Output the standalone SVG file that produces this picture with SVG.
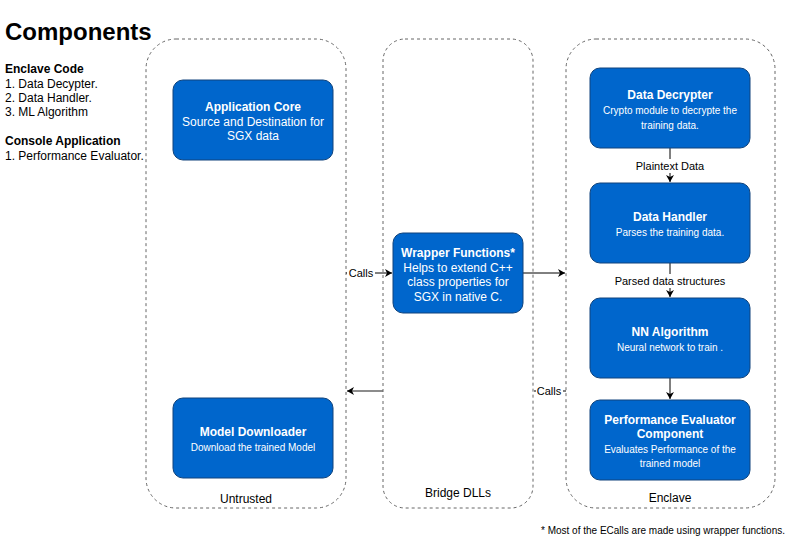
<svg xmlns="http://www.w3.org/2000/svg" width="809" height="539" viewBox="0 0 809 539">
<style>
text{font-family:"Liberation Sans",Arial,sans-serif;}
.cont{fill:none;stroke:#666;stroke-dasharray:3 3;stroke-width:1;}
.node{fill:#0066CC;stroke:#10437C;stroke-width:1;}
.t{fill:#fff;font-size:12px;font-weight:bold;text-anchor:middle;}
.b{fill:#fff;font-size:12px;text-anchor:middle;}
.s{fill:#fff;font-size:10px;text-anchor:middle;}
.lbl{fill:#000;font-size:12px;text-anchor:middle;}
.el{fill:#000;font-size:11px;text-anchor:middle;}
.edge{stroke:#000;stroke-width:1;fill:none;}
</style>
<defs>
<marker id="arr" markerWidth="8" markerHeight="8" refX="7" refY="4" orient="auto" markerUnits="userSpaceOnUse">
<path d="M0,0 L7,4 L0,8 L2,4 Z" fill="#000"/>
</marker>
</defs>
<rect width="809" height="539" fill="#fff"/>
<g id="legend">
<text x="5" y="40" font-size="24" font-weight="bold" fill="#000">Components</text>
<text x="5" y="73" font-size="12" font-weight="bold" fill="#000">Enclave Code</text>
<text x="5" y="88" font-size="12" fill="#000">1. Data Decypter.</text>
<text x="5" y="102" font-size="12" fill="#000">2. Data Handler.</text>
<text x="5" y="116" font-size="12" fill="#000">3. ML Algorithm</text>
<text x="5" y="145" font-size="12" font-weight="bold" fill="#000">Console Application</text>
<text x="5" y="160" font-size="12" fill="#000">1. Performance Evaluator.</text>
</g>
<g id="untrusted">
<rect class="cont" x="146" y="39" width="200" height="469" rx="30"/>
<text class="lbl" x="246" y="503">Untrusted</text>
</g>
<g id="bridge">
<rect class="cont" x="383" y="39" width="150" height="469" rx="22"/>
<text class="lbl" x="458" y="497">Bridge DLLs</text>
</g>
<g id="enclave">
<rect class="cont" x="566" y="39" width="209" height="469" rx="30"/>
<text class="lbl" x="670" y="502">Enclave</text>
</g>
<g id="connectors">
<line class="edge" x1="346" y1="273" x2="392" y2="273" marker-end="url(#arr)"/>
<rect x="347" y="266" width="28" height="14" fill="#fff"/>
<text class="el" x="361" y="277">Calls</text>
<line class="edge" x1="523" y1="273" x2="565" y2="273" marker-end="url(#arr)"/>
<line x1="383" y1="391" x2="347" y2="391" stroke="#666" stroke-width="1.5" marker-end="url(#arr)"/>
<line class="edge" x1="566" y1="391" x2="534" y2="391"/>
<rect x="536" y="384" width="27" height="14" fill="#fff"/>
<text class="el" x="549" y="395">Calls</text>
<line class="edge" x1="670" y1="148" x2="670" y2="182" marker-end="url(#arr)"/>
<rect x="634" y="159" width="72" height="14" fill="#fff"/>
<text class="el" x="670" y="170">Plaintext Data</text>
<line class="edge" x1="670" y1="263" x2="670" y2="297" marker-end="url(#arr)"/>
<rect x="614" y="274" width="112" height="14" fill="#fff"/>
<text class="el" x="670" y="285">Parsed data structures</text>
<line class="edge" x1="670" y1="378" x2="670" y2="399" marker-end="url(#arr)"/>
</g>
<g id="app-core">
<rect class="node" x="173" y="80" width="160" height="80" rx="10"/>
<text class="t" x="253" y="111">Application Core</text>
<text class="b" x="253" y="126">Source and Destination for</text>
<text class="b" x="253" y="140">SGX data</text>
</g>
<g id="model-downloader">
<rect class="node" x="173" y="398" width="160" height="80" rx="10"/>
<text class="t" x="253" y="436">Model Downloader</text>
<text class="s" x="253" y="451">Download the trained Model</text>
</g>
<g id="wrapper">
<rect class="node" x="393" y="233" width="130" height="80" rx="10"/>
<text class="t" x="458" y="257">Wrapper Functions*</text>
<text class="b" x="458" y="272">Helps to extend C++</text>
<text class="b" x="458" y="286">class properties for</text>
<text class="b" x="458" y="301">SGX in native C.</text>
</g>
<g id="data-decrypter">
<rect class="node" x="590" y="68" width="160" height="80" rx="10"/>
<text class="t" x="670" y="99">Data Decrypter</text>
<text class="s" x="670" y="114">Crypto module to decrypte the</text>
<text class="s" x="670" y="129">training data.</text>
</g>
<g id="data-handler">
<rect class="node" x="590" y="183" width="160" height="80" rx="10"/>
<text class="t" x="670" y="221">Data Handler</text>
<text class="s" x="670" y="236">Parses the training data.</text>
</g>
<g id="nn-algorithm">
<rect class="node" x="590" y="298" width="160" height="80" rx="10"/>
<text class="t" x="670" y="336">NN Algorithm</text>
<text class="s" x="670" y="351">Neural network to train .</text>
</g>
<g id="perf-evaluator">
<rect class="node" x="590" y="400" width="160" height="80" rx="10"/>
<text class="t" x="670" y="424">Performance Evaluator</text>
<text class="t" x="670" y="438">Component</text>
<text class="s" x="670" y="453">Evaluates Performance of the</text>
<text class="s" x="670" y="467">trained model</text>
</g>
<g id="footnote">
<text x="785" y="534" font-size="10" text-anchor="end" fill="#000">* Most of the ECalls are made using wrapper functions.</text>
</g>
</svg>
